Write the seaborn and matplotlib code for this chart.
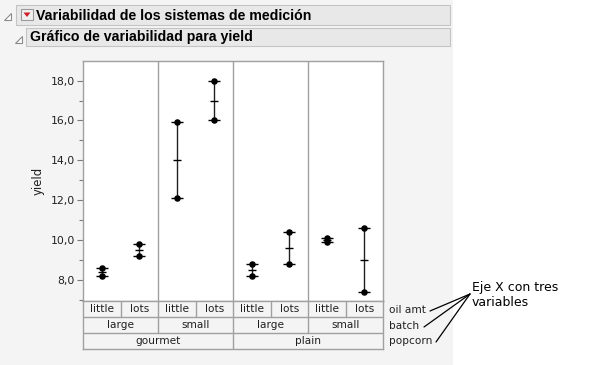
import numpy as np
import pandas as pd
import matplotlib.pyplot as plt
import seaborn as sns
from matplotlib.patches import Rectangle, Polygon
from matplotlib.lines import Line2D

# ---- data ----
popcorn = ['gourmet', 'gourmet', 'gourmet', 'gourmet', 'plain', 'plain', 'plain', 'plain']
batch = ['large', 'large', 'small', 'small', 'large', 'large', 'small', 'small']
oil_amt = ['little', 'lots', 'little', 'lots', 'little', 'lots', 'little', 'lots']
yield_hi = [8.6, 9.8, 15.9, 18.0, 8.8, 10.4, 10.1, 10.6]
yield_lo = [8.2, 9.2, 12.1, 16.0, 8.2, 8.8, 9.9, 7.4]
yticks = [8, 10, 12, 14, 16, 18]

sns.set_style('white')
plt.rcParams['font.family'] = ['DejaVu Sans']

W, H = 605, 365
BG = '#f4f4f4'
LINE = '#a0a0a0'

def fx(x):
    return x / W

def fy(y):
    return 1 - y / H

fig = plt.figure(figsize=(W / 100, H / 100), dpi=100)
fig.patch.set_facecolor('white')

# report background panel + headers (full-figure overlay in pixel units)
bg = fig.add_axes([0, 0, 1, 1], zorder=-5)
bg.set_xlim(0, W)
bg.set_ylim(H, 0)
bg.axis('off')
bg.add_patch(Rectangle((0, 0), 453, H, facecolor=BG, edgecolor='none'))
bg.add_patch(Rectangle((16, 5), 434, 20, facecolor='#e8e8e8', edgecolor='#c4c4c4', lw=0.8))
bg.add_patch(Rectangle((26, 28), 424, 18, facecolor='#e8e8e8', edgecolor='#c4c4c4', lw=0.8))
# disclosure triangles
bg.add_patch(Polygon([(4, 20), (11, 20), (11, 13)], closed=True, facecolor='white', edgecolor='#8a8a8a', lw=0.8))
bg.add_patch(Polygon([(15, 43), (22, 43), (22, 36)], closed=True, facecolor='white', edgecolor='#8a8a8a', lw=0.8))
# red menu icon
bg.add_patch(Rectangle((21, 9), 12, 11, facecolor='#f0f0f0', edgecolor='#9a9a9a', lw=0.8))
bg.add_patch(Polygon([(23.5, 12.5), (30.5, 12.5), (27, 17)], closed=True, facecolor='#d0202a', edgecolor='none'))
bg.text(36, 15.5, 'Variabilidad de los sistemas de medición', fontsize=10.2, fontweight='bold',
        family='Liberation Sans', va='center', ha='left', color='black')
bg.text(30, 37.5, 'Gráfico de variabilidad para yield', fontsize=10.2, fontweight='bold',
        family='Liberation Sans', va='center', ha='left', color='black')

# ---- main chart ----
left, right, top, bottom = 83, 383, 61, 301
ax = fig.add_axes([fx(left), fy(bottom), fx(right - left), (bottom - top) / H])
ax.set_facecolor('white')

df = pd.DataFrame({'popcorn': popcorn, 'batch': batch, 'oil amt': oil_amt,
                   'hi': yield_hi, 'lo': yield_lo})
df['pos'] = np.arange(len(df))
df['mean'] = (df['hi'] + df['lo']) / 2
long = df.melt(id_vars=['pos'], value_vars=['hi', 'lo'], value_name='yield')

ax.vlines(df['pos'], df['lo'], df['hi'], color='#202020', lw=1.0, zorder=2)
ax.plot(df['pos'], df['mean'], ls='none', marker='_', ms=5.5, mew=1.0, color='black', zorder=3)
ax.plot(long['pos'], long['yield'], ls='none', marker='_', ms=8.5, mew=1.0, color='black', zorder=3)
sns.scatterplot(data=long, x='pos', y='yield', color='black', s=22, edgecolor='black',
                linewidth=0, legend=False, ax=ax, zorder=4)

for d in [1.5, 3.5, 5.5]:
    ax.axvline(d, color=LINE, lw=1.0, zorder=1)

ax.set_xlim(-0.5, 7.5)
ax.set_ylim(6.95, 18.98)
ax.set_xticks([])
ax.set_yticks(yticks)
ax.set_yticklabels([f'{v:.1f}'.replace('.', ',') for v in yticks], fontsize=7.8, color='#202020')
ax.set_yticks(np.arange(7, 19, 1), minor=True)
ax.tick_params(axis='y', which='major', left=True, length=4.5, width=0.8, color='#7a7a7a', pad=1.5)
ax.tick_params(axis='y', which='minor', left=True, length=3, width=0.8, color='#7a7a7a')
ax.set_xlabel('')
ax.set_ylabel('yield', fontsize=8.4, color='#202020', labelpad=4)
for s in ax.spines.values():
    s.set_color(LINE)
    s.set_linewidth(1.0)

# ---- nested x-axis table ----
tb_top, tb_bot = 301, 349
tb = fig.add_axes([fx(left), fy(tb_bot), fx(right - left), (tb_bot - tb_top) / H])
tb.set_facecolor(BG)
tb.set_xlim(-0.5, 7.5)
tb.set_ylim(0, 3)
tb.set_xticks([])
tb.set_yticks([])
for s in tb.spines.values():
    s.set_color(LINE)
    s.set_linewidth(1.0)
tb.axhline(1, color=LINE, lw=1.0)
tb.axhline(2, color=LINE, lw=1.0)

fs = 7.6
for i in range(len(df)):
    tb.text(i, 2.5, oil_amt[i], ha='center', va='center', fontsize=fs, color='#202020')
    if i < len(df) - 1:
        tb.plot([i + 0.5, i + 0.5], [2, 3], color=LINE, lw=1.0)
for j in range(0, len(df), 2):
    tb.text(j + 0.5, 1.5, batch[j], ha='center', va='center', fontsize=fs, color='#202020')
    if j > 0:
        tb.plot([j - 0.5, j - 0.5], [1, 2], color=LINE, lw=1.0)
for k in range(0, len(df), 4):
    tb.text(k + 1.5, 0.5, popcorn[k], ha='center', va='center', fontsize=fs, color='#202020')
tb.plot([3.5, 3.5], [0, 1], color=LINE, lw=1.0)

row_names = ['oil amt', 'batch', 'popcorn']
row_y = [310, 326, 341]
for name, yy in zip(row_names, row_y):
    bg.text(389, yy, name, ha='left', va='center', fontsize=fs, color='#202020')

# ---- annotation ----
bg.text(472, 287, 'Eje X con tres', ha='left', va='center', fontsize=9.0, color='black')
bg.text(472, 303, 'variables', ha='left', va='center', fontsize=9.0, color='black')
for ex, ey in [(430, 311), (424, 327), (436, 342)]:
    bg.add_line(Line2D([ex, 470], [ey, 294], color='black', lw=0.9))

fig.savefig('out.png', dpi=100, facecolor=fig.get_facecolor())
